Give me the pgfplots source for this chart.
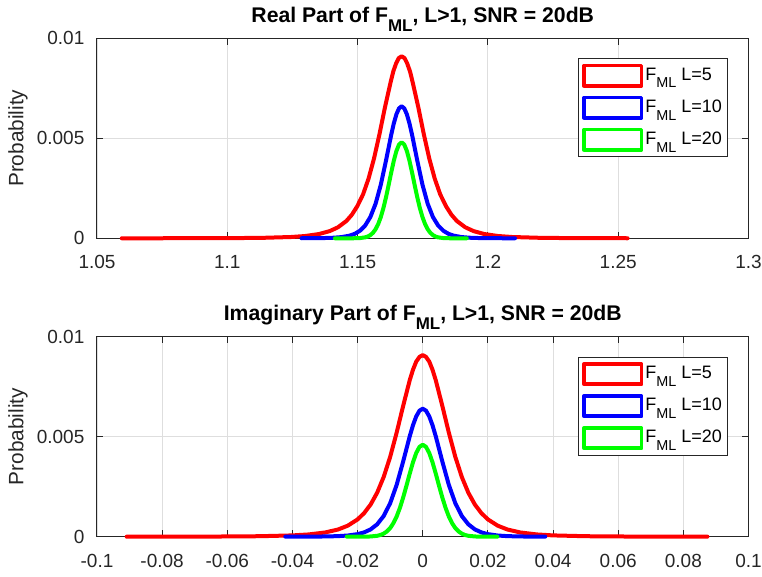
\documentclass[border=0pt]{standalone}
\usepackage{fontspec}
\setmainfont{Liberation Sans}
\usepackage{graphicx}
\usepackage{pgfplots}
\pgfplotsset{compat=1.18}
\definecolor{axgray}{HTML}{262626}
\definecolor{gridgray}{HTML}{DEDEDE}
\newcommand{\sub}[1]{\raisebox{-0.42em}{\scalebox{0.8}{#1}}}
\pgfplotsset{
  legend image code/.code={\draw[#1, line width=1.8pt, fill=white] (0pt,-5.1pt) rectangle (28.75pt,5.1pt);},
  matlab/.style={
    scale only axis, width=325.75pt, height=100pt,
    anchor=south west,
    clip=false,
    axis line style={axgray, line width=0.5pt},
    every tick/.style={axgray, line width=0.5pt},
    tick align=inside,
    major tick length=3.2pt,
    xmajorgrids, ymajorgrids,
    grid style={gridgray, line width=0.4pt},
    scaled x ticks=false, scaled y ticks=false,
    ymin=0, ymax=0.01,
    ytick={0,0.005,0.01}, yticklabels={0,0.005,0.01},
    /pgf/number format/assume math mode=true,
    tick label style={font=\fontsize{9.5}{11}\selectfont, text=axgray},
    xticklabel style={yshift=-5pt},
    yticklabel style={xshift=-2.8pt},
    ylabel={Probability},
    ylabel style={at={(axis description cs:-0.1213,0.5)}, anchor=center, font=\fontsize{10.4}{12}\selectfont, text=axgray},
    title style={at={(axis description cs:0.5,1)}, anchor=base, yshift=2pt, font=\fontsize{10.6}{12}\selectfont\bfseries},
    legend style={at={(axis description cs:1,1)}, anchor=north east, xshift=-10.1pt, yshift=-10pt,
       draw=axgray, line width=0.4pt, fill=white, font=\fontsize{9}{10.5}\selectfont, text=black,
       inner xsep=2pt, inner ysep=2.5pt, row sep=4pt, column sep=0pt,
       nodes={inner sep=1pt}},
    legend cell align=left,
  },
  curve/.style={line width=2pt, line join=round, line cap=round},
}
\begin{document}
\begin{tikzpicture}
\path[use as bounding box] (0,0) rectangle (381pt,288.5pt);
% ---------------- top axis ----------------
\begin{axis}[matlab, at={(48.5pt,169.35pt)},
  xmin=1.05, xmax=1.3,
  xtick={1.05,1.1,1.15,1.2,1.25,1.3}, xticklabels={1.05,1.1,1.15,1.2,1.25,1.3},
  title={Real Part of F\sub{ML}, L>1, SNR = 20dB}]
\addplot[curve, color=red] coordinates {
(1.0595,0.0000006) (1.0821,0.0000026) (1.1033,0.0000103) (1.1139,0.0000239) (1.1245,0.0000643)
(1.1298,0.000113) (1.1351,0.000210) (1.1393,0.000359) (1.1425,0.000552) (1.1457,0.000865)
(1.1478,0.001178) (1.1499,0.001609) (1.1521,0.002197) (1.1542,0.002982) (1.1563,0.003990)
(1.1584,0.005209) (1.1605,0.006549) (1.1627,0.007821) (1.1637,0.008347) (1.1648,0.008754)
(1.1658,0.009012) (1.1669,0.00910) (1.1680,0.009012)
(1.1690,0.008754) (1.1701,0.008347) (1.1711,0.007821) (1.1733,0.006549) (1.1754,0.005209)
(1.1775,0.003990) (1.1796,0.002982) (1.1817,0.002197) (1.1839,0.001609) (1.1860,0.001178)
(1.1881,0.000865) (1.1913,0.000552) (1.1945,0.000359) (1.1987,0.000210) (1.2040,0.000113)
(1.2093,0.0000643) (1.2199,0.0000239) (1.2305,0.0000103) (1.2517,0.0000026) (1.2536,0.0000018)};
\addlegendentry{F\sub{ML} L=5}
\addplot[curve, color=blue] coordinates {
(1.1285,0.0000020) (1.1319,0.0000038) (1.1369,0.0000112) (1.1409,0.0000288) (1.1439,0.0000605)
(1.1469,0.000131) (1.1489,0.000222) (1.1509,0.000377) (1.1529,0.000638) (1.1549,0.001065)
(1.1569,0.001726) (1.1589,0.002676) (1.1609,0.003885) (1.1629,0.005175) (1.1639,0.005747)
(1.1649,0.006203) (1.1659,0.006498) (1.1669,0.00660) (1.1679,0.006498)
(1.1689,0.006203) (1.1699,0.005747) (1.1709,0.005175) (1.1729,0.003885) (1.1749,0.002676)
(1.1769,0.001726) (1.1789,0.001065) (1.1809,0.000638) (1.1829,0.000377) (1.1849,0.000222)
(1.1869,0.000131) (1.1899,0.0000605) (1.1929,0.0000288) (1.1969,0.0000112) (1.2019,0.0000038)
(1.2069,0.0000013) (1.2104,0.0000008)};
\addlegendentry{F\sub{ML} L=10}
\addplot[curve, color=green] coordinates {
(1.1413,0.0000001) (1.1469,0.0000004) (1.1489,0.0000023) (1.1509,0.0000113) (1.1529,0.0000468)
(1.1539,0.0000883) (1.1549,0.000160) (1.1559,0.000275) (1.1569,0.000452) (1.1579,0.000708)
(1.1589,0.001058) (1.1599,0.001508) (1.1609,0.002050) (1.1619,0.002659) (1.1629,0.003289)
(1.1639,0.003880) (1.1649,0.004367) (1.1659,0.004688) (1.1669,0.00480)
(1.1679,0.004688) (1.1689,0.004367) (1.1699,0.003880) (1.1709,0.003289) (1.1719,0.002659)
(1.1729,0.002050) (1.1739,0.001508) (1.1749,0.001058) (1.1759,0.000708) (1.1769,0.000452)
(1.1779,0.000275) (1.1789,0.000160) (1.1799,0.0000883) (1.1809,0.0000468) (1.1829,0.0000113)
(1.1849,0.0000023) (1.1869,0.0000004) (1.1919,0.0000001)};
\addlegendentry{F\sub{ML} L=20}
\end{axis}
% ---------------- bottom axis ----------------
\begin{axis}[matlab, at={(48.5pt,20.15pt)},
  xmin=-0.1, xmax=0.1,
  xtick={-0.1,-0.08,-0.06,-0.04,-0.02,0,0.02,0.04,0.06,0.08,0.1},
  xticklabels={-0.1,-0.08,-0.06,-0.04,-0.02,0,0.02,0.04,0.06,0.08,0.1},
  title={Imaginary Part of F\sub{ML}, L>1, SNR = 20dB}]
\addplot[curve, color=red] coordinates {
(-0.0909,0.0000008) (-0.08,0.0000026) (-0.06,0.0000103) (-0.05,0.0000239) (-0.04,0.0000643)
(-0.035,0.000113) (-0.03,0.000210) (-0.026,0.000359) (-0.023,0.000552) (-0.02,0.000865)
(-0.018,0.001178) (-0.016,0.001609) (-0.014,0.002197) (-0.012,0.002982) (-0.01,0.003990)
(-0.008,0.005209) (-0.006,0.006549) (-0.004,0.007821) (-0.003,0.008347) (-0.002,0.008754)
(-0.001,0.008990) (0,0.00908) (0.001,0.008990)
(0.002,0.008754) (0.003,0.008347) (0.004,0.007821) (0.006,0.006549) (0.008,0.005209) (0.01,0.003990)
(0.012,0.002982) (0.014,0.002197) (0.016,0.001609) (0.018,0.001178) (0.02,0.000865)
(0.023,0.000552) (0.026,0.000359) (0.03,0.000210) (0.035,0.000113) (0.04,0.0000643)
(0.05,0.0000239) (0.06,0.0000103) (0.08,0.0000026) (0.0874,0.0000018)};
\addlegendentry{F\sub{ML} L=5}
\addplot[curve, color=blue] coordinates {
(-0.0422,0.0000008) (-0.04,0.0000012) (-0.035,0.0000036) (-0.03,0.0000109) (-0.026,0.0000279)
(-0.023,0.0000587) (-0.02,0.000127) (-0.018,0.000215) (-0.016,0.000365) (-0.014,0.000619)
(-0.012,0.001032) (-0.01,0.001674) (-0.008,0.002595) (-0.006,0.003767) (-0.004,0.005018)
(-0.003,0.005572) (-0.002,0.006015) (-0.001,0.006301) (0,0.00640) (0.001,0.006301)
(0.002,0.006015) (0.003,0.005572) (0.004,0.005018) (0.006,0.003767) (0.008,0.002595) (0.01,0.001674)
(0.012,0.001032) (0.014,0.000619) (0.016,0.000365) (0.018,0.000215) (0.02,0.000127)
(0.023,0.0000587) (0.026,0.0000279) (0.03,0.0000109) (0.035,0.0000036) (0.0376,0.0000020)};
\addlegendentry{F\sub{ML} L=10}
\addplot[curve, color=green] coordinates {
(-0.0233,0.0000001) (-0.02,0.0000004) (-0.018,0.0000022) (-0.016,0.0000109) (-0.014,0.0000448)
(-0.013,0.0000846) (-0.012,0.000153) (-0.011,0.000264) (-0.01,0.000433) (-0.009,0.000679)
(-0.008,0.001014) (-0.007,0.001445) (-0.006,0.001965) (-0.005,0.002548) (-0.004,0.003152)
(-0.003,0.003719) (-0.002,0.004185) (-0.001,0.004492) (0,0.00460)
(0.001,0.004492) (0.002,0.004185) (0.003,0.003719) (0.004,0.003152) (0.005,0.002548)
(0.006,0.001965) (0.007,0.001445) (0.008,0.001014) (0.009,0.000679) (0.01,0.000433)
(0.011,0.000264) (0.012,0.000153) (0.013,0.0000846) (0.014,0.0000448) (0.016,0.0000109)
(0.018,0.0000022) (0.02,0.0000004) (0.0229,0.0000001)};
\addlegendentry{F\sub{ML} L=20}
\end{axis}
\end{tikzpicture}
\end{document}
